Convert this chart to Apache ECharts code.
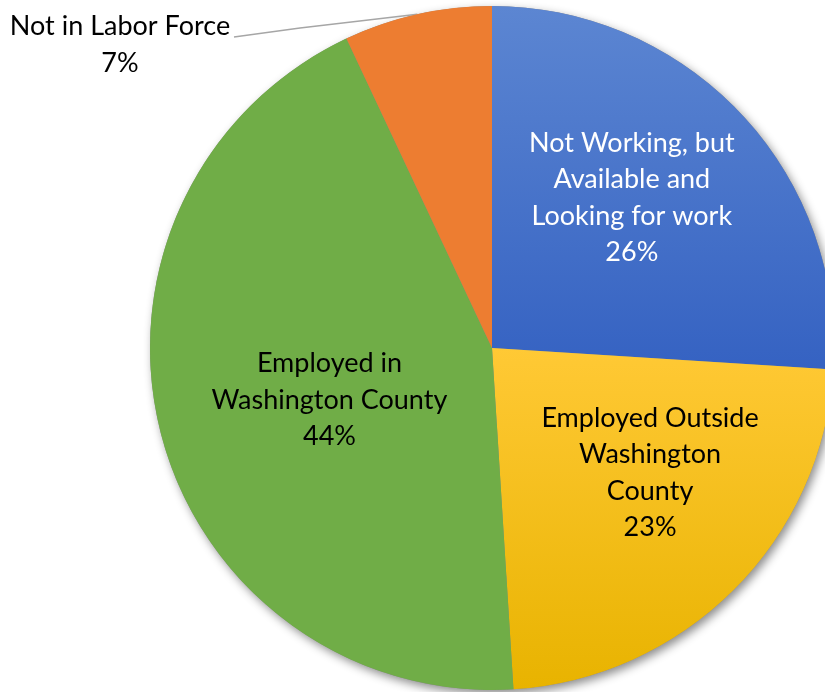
<!DOCTYPE html>
<html>
<head>
<meta charset="utf-8">
<script src="https://cdn.jsdelivr.net/npm/echarts@6/dist/echarts.min.js"></script>
<style>html,body{margin:0;padding:0;background:#fff;}#c{width:825px;height:692px;}</style>
</head>
<body>
<div id="c"></div>
<script>
const categories = ["Not Working, but\nAvailable and\nLooking for work", "Employed Outside\nWashington\nCounty", "Employed in\nWashington County", "Not in Labor Force"];
const values = [26, 23, 44, 7];
const percentLabels = ["26%", "23%", "44%", "7%"];

const grad = (a, b) => new echarts.graphic.LinearGradient(0, 0, 0, 1, [{offset: 0, color: a}, {offset: 1, color: b}]);
const colors = [grad('#5C86D2', '#3562C2'), grad('#FFC935', '#E8B300'), '#70AD47', '#ED7D31'];
const textColors = ['#ffffff', '#000000', '#000000', '#000000'];
const offsets = [[13, -31], [35, 2], [6, 9], [0, 0]];

const chart = echarts.init(document.getElementById('c'), null, {renderer: 'canvas'});
const fontFamily = 'Lato, "Open Sans", sans-serif';

const data = values.map((v, i) => {
  const item = {
    value: v,
    name: categories[i],
    itemStyle: {color: colors[i]},
    label: {
      show: true,
      position: 'inside',
      color: textColors[i],
      offset: offsets[i],
      formatter: categories[i] + '\n' + percentLabels[i]
    },
    labelLine: {show: false}
  };
  if (i === 3) {
    item.label = {
      show: true,
      position: 'outside',
      color: '#000',
      formatter: categories[i] + '\n' + percentLabels[i]
    };
    item.labelLine = {show: true, length: 5, length2: 100, lineStyle: {color: '#A6A6A6', width: 1.3}};
  }
  return item;
});

chart.setOption({
  animation: false,
  backgroundColor: '#fff',
  series: [
    {
      type: 'pie',
      silent: true,
      z: 1,
      center: [492, 348],
      radius: [0, 342],
      label: {show: false},
      labelLine: {show: false},
      itemStyle: {color: '#888', shadowBlur: 10, shadowColor: 'rgba(0,0,0,0.45)', shadowOffsetX: 3, shadowOffsetY: 4},
      data: [{value: 1}]
    },
    {
      type: 'pie',
      z: 2,
      center: [492, 348],
      radius: [0, 342],
      startAngle: 90,
      clockwise: true,
      avoidLabelOverlap: false,
      itemStyle: {borderWidth: 0},
      label: {fontFamily: fontFamily, fontSize: 27, lineHeight: 36.5, align: 'center'},
      labelLayout: function (params) {
        if (params.dataIndex === 3) {
          const p0 = params.labelLinePoints ? params.labelLinePoints[0] : [417, 14];
          return {
            x: 120, y: 45, align: 'center', verticalAlign: 'middle',
            labelLinePoints: [p0, [300, 28], [234, 37]]
          };
        }
        return {};
      },
      data: data
    }
  ]
});
</script>
</body>
</html>
